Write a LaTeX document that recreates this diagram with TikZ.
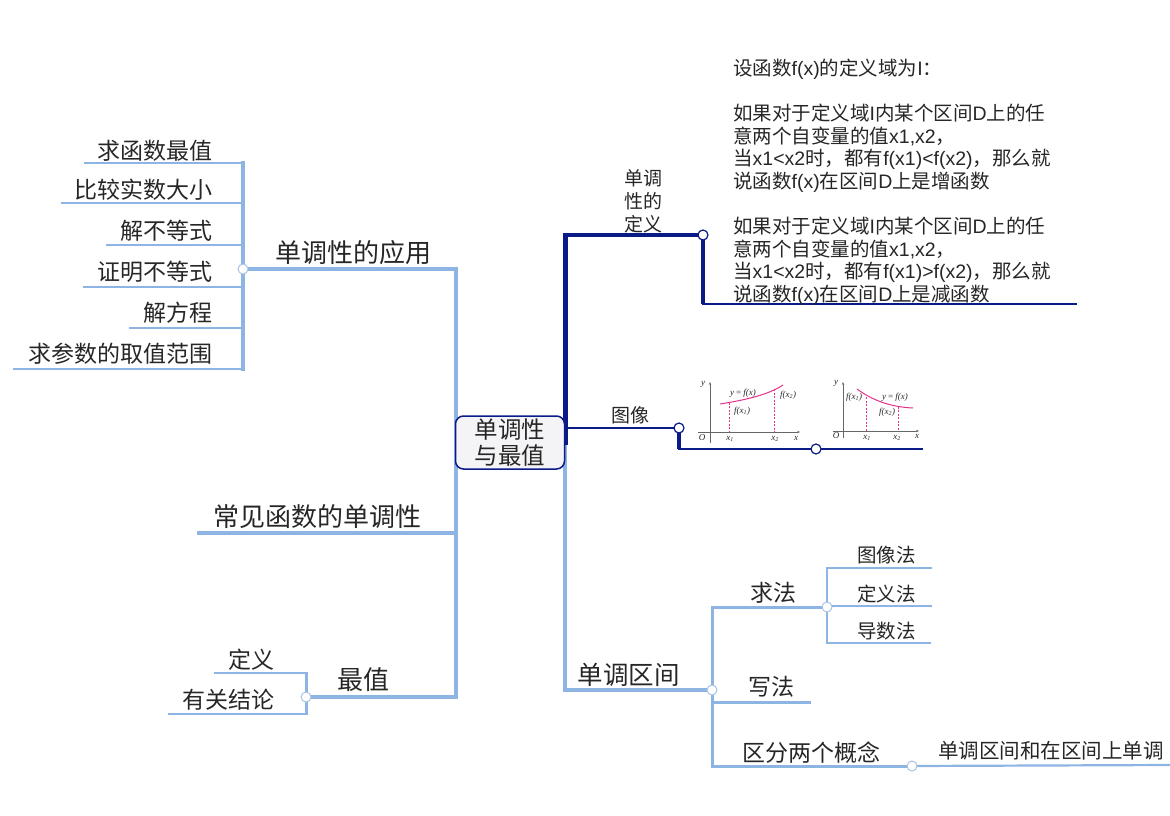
\documentclass[tikz,border=0pt]{standalone}
\usepackage{fontspec}
\setmainfont{Noto Sans CJK SC}
\newfontfamily\latf{Liberation Sans}
\newfontfamily\tmsf{Liberation Serif}
\newcommand\lt[1]{{\latf #1}}
\newcommand\fsz[1]{\fontsize{#1}{#1}\selectfont}
\usetikzlibrary{arrows.meta}
\definecolor{lb}{HTML}{8DB4E2}
\definecolor{lbd}{HTML}{A9C3E3}
\definecolor{nv}{HTML}{0A1A86}
\definecolor{tx}{HTML}{262626}
\definecolor{pk}{HTML}{E2338A}
\definecolor{ax}{HTML}{666666}
\definecolor{boxfill}{HTML}{F4F4F6}
\begin{document}
\begin{tikzpicture}[x=1pt,y=-1pt,
  lbl/.style={inner sep=0pt,text=tx},
  dotb/.style={circle,draw=lbd,fill=white,inner sep=0pt,minimum size=10pt,line width=1pt},
  dotn/.style={circle,draw=nv,fill=white,inner sep=0pt,minimum size=10pt,line width=1.2pt},
  lbA/.style={draw=lb,line width=4pt},
  lbB/.style={draw=lb,line width=3pt},
  lbC/.style={draw=lb,line width=2.2pt},
  nvA/.style={draw=nv,line width=5pt},
  nvB/.style={draw=nv,line width=3.5pt},
  nvC/.style={draw=nv,line width=2.5pt},
  nvD/.style={draw=nv,line width=1.5pt},
  axis/.style={draw=ax,line width=0.6pt,-{Stealth[length=3pt,width=2.4pt]}},
  curve/.style={draw=pk,line width=1pt},
  dsh/.style={draw=pk,line width=0.6pt,dash pattern=on 2pt off 1.5pt},
  gl/.style={inner sep=0pt,text=tx,font=\tmsf\itshape\fontsize{9}{10}\selectfont},
]
\useasboundingbox (0,0) rectangle (1170,816);

% ---------- coordinates ----------
\coordinate (appJ) at (243,269);
\coordinate (leftTop) at (456,269);
\coordinate (leftBot) at (456,697);
\coordinate (zzJ) at (306,697);
\coordinate (rTop) at (565,235);
\coordinate (rBox) at (565,445);
\coordinate (defJ) at (703,235);
\coordinate (defC) at (703,304);
\coordinate (defE) at (1077,304);
\coordinate (imgJ) at (679,428);
\coordinate (imgC) at (679,449);
\coordinate (imgJ2) at (816,449);
\coordinate (imgE) at (923,449);
\coordinate (qjJ) at (712,690);
\coordinate (qfJ) at (827,607);
\coordinate (qfE) at (912,766);

% ---------- left: applications ----------
\draw[lbA] (243,161) -- (243,371);
\foreach \xs/\yy in {84/163, 61/203, 106/245, 83/287, 129/328, 13/369}
  \draw[lbC] (\xs,\yy) -- (243,\yy);
\draw[lbA] (appJ) -- (leftTop);
\draw[lbA] (456,267) -- (456,699);
\draw[lbA] (197,533) -- (456,533);
\draw[lbA] (zzJ) -- (leftBot);
\draw[lbB] (306,672) -- (306,715);
\draw[lbC] (214,673) -- (306,673);
\draw[lbC] (168,714) -- (306,714);

% ---------- right: definition ----------
\draw[nvA] (565,233) -- (rBox);
\draw[lbA] (rBox) -- (565,692);
\draw[nvB] (rTop) -- (defJ);
\draw[nvB] (defJ) -- (defC);
\draw[nvC] (701.5,304) -- (defE);
% image branch
\draw[nvC] (565,428) -- (imgJ);
\draw[nvB] (imgJ) -- (imgC);
\draw[nvC] (677.5,449) -- (imgJ2);
\draw[nvD] (imgJ2) -- (imgE);
% interval branch
\draw[lbA] (565,690) -- (qjJ);
\draw[lbB] (712,605.5) -- (712,767.5);
\draw[lbB] (712,607) -- (qfJ);
\draw[lbC] (827,567) -- (827,644);
\draw[lbC] (827,568) -- (932,568);
\draw[lbC] (827,606) -- (932,606);
\draw[lbC] (827,643) -- (931,643);
\draw[lbB] (712,702) -- (811,702);
\draw[lbB] (712,766) -- (qfE);
\draw[lbC] (qfE) -- (1170,765);

% ---------- dots ----------
\node[dotb] (dApp) at (appJ) {};
\node[dotb] (dZz) at (zzJ) {};
\node[dotn] (dDef) at (defJ) {};
\node[dotn] (dImg) at (imgJ) {};
\node[dotn] (dImg2) at (imgJ2) {};
\node[dotb] (dQj) at (qjJ) {};
\node[dotb] (dQf) at (qfJ) {};
\node[dotb] (dQfE) at (qfE) {};

% ---------- center ----------
\node[draw=nv,line width=1.5pt,fill=boxfill,rounded corners=8pt,minimum width=109pt,minimum height=53pt,inner sep=0pt,text=tx,align=center,font=\fontsize{23.5}{26}\selectfont] (root) at (510,442.5) {单调性\\与最值};

% ---------- left labels ----------
\node[lbl,font=\fsz{26}] (app) at (353,253) {单调性的应用};
\node[lbl,font=\fsz{23},anchor=east] (a1) at (213,150.5) {求函数最值};
\node[lbl,font=\fsz{23},anchor=east] (a2) at (213,190) {比较实数大小};
\node[lbl,font=\fsz{23},anchor=east] (a3) at (213,231) {解不等式};
\node[lbl,font=\fsz{23},anchor=east] (a4) at (213,272) {证明不等式};
\node[lbl,font=\fsz{23},anchor=east] (a5) at (213,313) {解方程};
\node[lbl,font=\fsz{23},anchor=east] (a6) at (213,354) {求参数的取值范围};
\node[lbl,font=\fsz{26}] (cj) at (317,517) {常见函数的单调性};
\node[lbl,font=\fsz{26}] (zz) at (363,680) {最值};
\node[lbl,font=\fsz{23}] (zd) at (251.5,660) {定义};
\node[lbl,font=\fsz{23}] (zj) at (228,700) {有关结论};

% ---------- right labels ----------
\node[lbl,font=\fontsize{19}{23}\selectfont,align=center] (defl) at (643,201) {单调\\性的\\定义};
\node[lbl,font=\fsz{19}] (imgl) at (630,415) {图像};
\node[lbl,anchor=north west,align=left,font=\fontsize{19.5}{22.6}\selectfont,text=tx] (deft) at (733,58.5) {%
设函数\lt{f(x)}的定义域为\lt{I}：\\[22.6pt]
如果对于定义域\lt{I}内某个区间\lt{D}上的任\\
意两个自变量的值\lt{x1,x2}，\\
当\lt{x1<x2}时，都有\lt{f(x1)<f(x2)}，那么就\\
说函数\lt{f(x)}在区间\lt{D}上是增函数\\[22.6pt]
如果对于定义域\lt{I}内某个区间\lt{D}上的任\\
意两个自变量的值\lt{x1,x2}，\\
当\lt{x1<x2}时，都有\lt{f(x1)>f(x2)}，那么就\\
说函数\lt{f(x)}在区间\lt{D}上是减函数};

\node[lbl,font=\fsz{25.5}] (qj) at (628.5,675) {单调区间};
\node[lbl,font=\fsz{23}] (qf) at (773.5,593) {求法};
\node[lbl,font=\fsz{19.5}] (q1) at (886.5,555) {图像法};
\node[lbl,font=\fsz{19.5}] (q2) at (886.5,594) {定义法};
\node[lbl,font=\fsz{19.5}] (q3) at (886.5,631) {导数法};
\node[lbl,font=\fsz{23}] (xf) at (771.5,687) {写法};
\node[lbl,font=\fsz{23}] (qb) at (811.5,753) {区分两个概念};
\node[lbl,font=\fsz{20.5}] (qbt) at (1051,751) {单调区间和在区间上单调};

% ---------- graph 1 (increasing) ----------
\draw[axis] (710,443) -- (710,382);
\draw[axis] (698,432) -- (800,432);
\draw[dsh] (729,402.5) -- (729,432);
\draw[dsh] (774,389) -- (774,432);
\draw[curve] (720,404) .. controls (745,400) and (768,395) .. (783,385);
\node[gl] (g1y) at (703,384) {y};
\node[gl] (g1o) at (702,438) {O};
\node[gl] (g1x1) at (730,439) {x\textsubscript{1}};
\node[gl] (g1x2) at (775,439) {x\textsubscript{2}};
\node[gl] (g1x) at (796,438) {x};
\node[gl] (g1f) at (743,393) {y\,=\,f(x)};
\node[gl] (g1f2) at (788,395) {f(x\textsubscript{2})};
\node[gl] (g1f1) at (742,411) {f(x\textsubscript{1})};

% ---------- graph 2 (decreasing) ----------
\draw[axis] (843,438) -- (843,382);
\draw[axis] (833,431) -- (919,431);
\draw[dsh] (866,397) -- (866,431);
\draw[dsh] (898,406.5) -- (898,431);
\draw[curve] (857,389) .. controls (872,400) and (890,407) .. (913,408);
\node[gl] (g2y) at (836,383) {y};
\node[gl] (g2o) at (836,436) {O};
\node[gl] (g2x1) at (867,438) {x\textsubscript{1}};
\node[gl] (g2x2) at (897,438) {x\textsubscript{2}};
\node[gl] (g2x) at (917,436) {x};
\node[gl] (g2f1) at (854,397) {f(x\textsubscript{1})};
\node[gl] (g2f) at (895,397) {y\,=\,f(x)};
\node[gl] (g2f2) at (887,412) {f(x\textsubscript{2})};
\end{tikzpicture}
\end{document}
